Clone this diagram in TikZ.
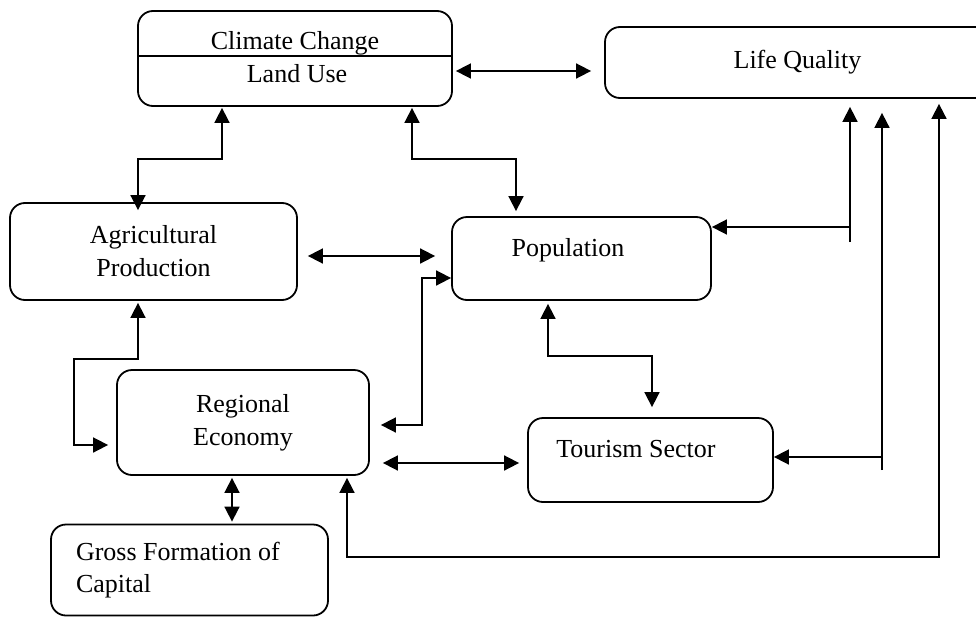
\documentclass[tikz,border=0pt]{standalone}
\usepackage{fontspec}
\setmainfont{Liberation Serif}
\usetikzlibrary{arrows.meta}

\begin{document}
\begin{tikzpicture}[
  x=1pt, y=-1pt,
  font=\fontsize{26}{33}\selectfont,
  >={Triangle[length=15pt,width=15pt]},
  % ── shared box style
  box/.style={
    draw, rounded corners=15pt, line width=1.8pt,
    align=center, inner sep=0pt
  },
  txt/.style={inner sep=0pt},
  % ── arrows
  arr/.style={->,  line width=1.7pt},
  dbl/.style={<->, line width=1.7pt},
]

\clip (0,0) rectangle (976,618);

%% ═══════════════════════════════════════════════════════════════════════════
%%  BOXES
%% ═══════════════════════════════════════════════════════════════════════════

\node[box, minimum width=314pt, minimum height=95pt] (cc) at (295,58.5) {};
\draw[line width=1.8pt] (cc.west |- 0,56) -- (cc.east |- 0,56);
\node[txt, anchor=base] (cc-a) at (295,50) {Climate Change};
\node[txt, anchor=base] (cc-b) at (297,82) {Land Use};

\node[box, minimum width=385pt, minimum height=71pt] (lq) at (797.5,62.5)
  {Life Quality};

\node[box, minimum width=287pt, minimum height=97pt] (ap) at (153.5,251.5)
  {Agricultural\\Production};

\node[box, minimum width=259pt, minimum height=83pt] (pop) at (581.5,258.5) {};
\node[txt, anchor=base] (pop-t) at (568,256) {Population};

\node[box, minimum width=252pt, minimum height=105pt] (re) at (243,422.5)
  {Regional\\Economy};

\node[box, minimum width=245pt, minimum height=84pt] (ts) at (650.5,460) {};
\node[txt, anchor=base] (ts-t) at (636,457) {Tourism Sector};

\node[box, minimum width=277pt, minimum height=91pt,
      align=flush left, text width=227pt, font=\fontsize{26}{32}\selectfont]
  (gfc) at (189.5,570) {Gross Formation of\\Capital};

%% ═══════════════════════════════════════════════════════════════════════════
%%  CONNECTORS
%% ═══════════════════════════════════════════════════════════════════════════

% top row
\draw[dbl, shorten <=3pt, shorten >=13pt] (cc.east |- 0,71) -- (lq.west |- 0,71);

% Climate Change / Land Use down to the two boxes below
\draw[dbl, shorten <=1pt, shorten >=-8pt]
  (222,0 |- cc.south) |- (138,159) -- (138,0 |- ap.north);
\draw[dbl, shorten <=1pt, shorten >=5pt]
  (412,0 |- cc.south) |- (516,159) -- (516,0 |- pop.north);

% middle row
\draw[dbl, shorten <=10pt, shorten >=16pt] (ap.east |- 0,256) -- (pop.west |- 0,256);
\draw[dbl, shorten <=11pt] (re.east |- 0,425) -| (422,278) -- (pop.west |- 0,278);
\draw[dbl, shorten <=2pt, shorten >=8pt]
  (138,0 |- ap.south) |- (74,359) |- (re.west |- 0,445);
\draw[dbl, shorten <=3pt, shorten >=10pt]
  (548,0 |- pop.south) |- (652,356) -- (652,0 |- ts.north);

% lower row
\draw[dbl, shorten <=13pt, shorten >=8pt] (re.east |- 0,463) -- (ts.west |- 0,463);
\draw[dbl, shorten <=2pt, shorten >=2pt] (232,0 |- re.south) -- (232,0 |- gfc.north);

% feedback lines from Life Quality
\coordinate (j1) at (850,242);
\coordinate (j2) at (882,470);
\draw[arr, shorten >=8pt]  (j1) -- (j1 |- lq.south);
\draw[arr] (850,227) -- (pop.east |- 0,227);
\draw[arr, shorten >=14pt] (j2) -- (j2 |- lq.south);
\draw[arr] (882,457) -- (ts.east |- 0,457);
\draw[dbl, shorten <=5pt, shorten >=2pt]
  (939,0 |- lq.south) -- (939,557) -| (347,0 |- re.south);

\end{tikzpicture}
\end{document}
